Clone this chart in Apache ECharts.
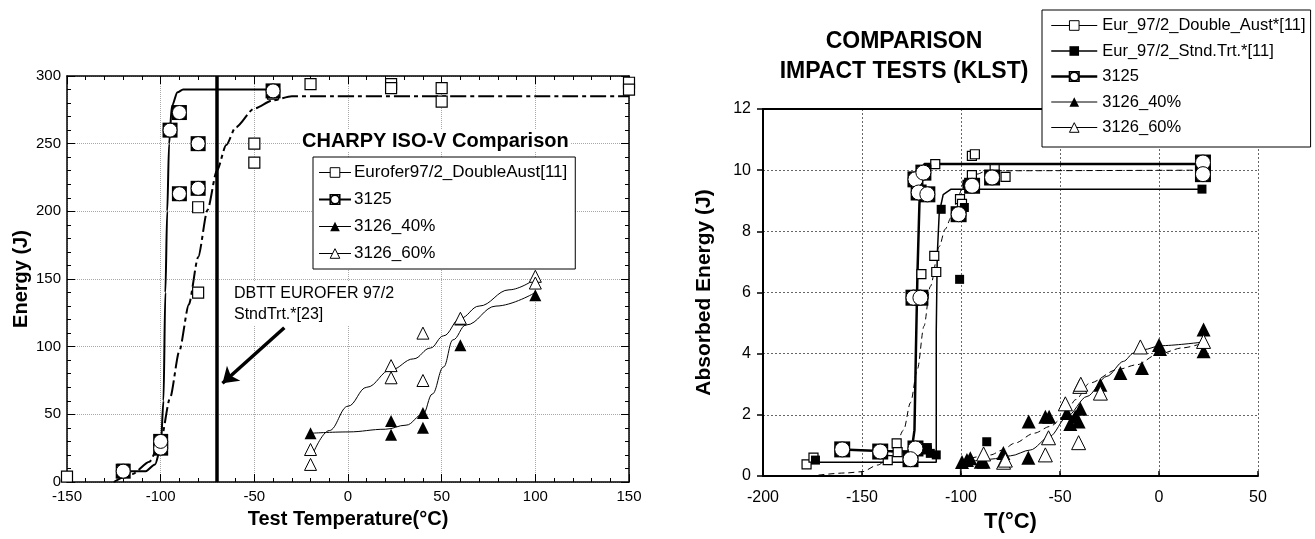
<!DOCTYPE html>
<html><head><meta charset="utf-8">
<script src="https://cdn.jsdelivr.net/npm/echarts@6/dist/echarts.min.js"></script>
<style>html,body{margin:0;padding:0;background:#fff}#c{width:1315px;height:539px}</style>
</head><body><div id="c"></div>
<script>
// ---------- Left chart: CHARPY ISO-V ----------
const charpyXTicks = [-150, 150, 50];
const charpyYTicks = [0, 300, 50];
const charpyEuroferPts = [[-150,4],[-120,9],[-100,30],[-100,25],[-80,140],[-80,203],[-50,250],[-50,236],[-40,287],[-20,294],[23,294],[23,291],[50,291],[50,281],[150,295],[150,290]];
const charpyEuroferFit = [[-125,0],[-115,6],[-106,15],[-100,30],[-95,62],[-90,97],[-85,131],[-80,166],[-75,201],[-70,230],[-65,249],[-60,262],[-50,276],[-40,282],[-30,285],[150,285]];
const charpy3125Pts = [[-120,8],[-100,25],[-100,30],[-95,260],[-90,273],[-90,213],[-80,250],[-80,217],[-40,289]];
const charpy3125Fit = [[-120,8],[-108,8],[-103,13],[-100,25],[-98.5,60],[-97.5,140],[-96.5,200],[-95.5,250],[-94,278],[-91,288],[-88,290],[-40,290]];
const charpy40Pts = [[-20,36],[23,45],[23,35],[40,51],[40,40],[60,120],[60,101],[100,138]];
const charpy40Fit = [[-20,36],[0,37],[20,39],[31,42],[40,50],[45,65],[51,85],[56,105],[63,116],[79,130],[100,140]];
const charpy60Pts = [[-20,24],[-20,13],[23,86],[23,77],[40,110],[40,75],[60,121],[100,152],[100,147]];
const charpy60Fit = [[-19,20],[-10,38],[0,56],[10,70],[23,83],[35,91],[44,99],[51,108],[60,121],[70,130],[86,142],[100,150]];
const dbttX = -70;
const arrowTail = [-34,114];
const arrowHead = [-67,73];

// ---------- Right chart: KLST ----------
const klstXTicks = [-200, 50, 50];
const klstYTicks = [0, 12, 2];
const klstDoubleAustPts = [[-178,0.38],[-174.5,0.6],[-137,0.52],[-132.5,1.07],[-132,0.78],[-120,6.6],[-112.5,6.67],[-113.5,7.2],[-113,10.2],[-100.5,9.05],[-99.5,8.9],[-94.5,10.47],[-93,10.52],[-94.5,9.84],[-83,10.03],[-77.5,9.78]];
const klstDoubleAustFit = [[-172,0.03],[-158,0.1],[-150,0.14],[-142,0.36],[-134,0.8],[-129,1.5],[-125.5,2.4],[-122,3.5],[-118.7,4.9],[-115.5,6.2],[-111,7.5],[-108,8.07],[-105,8.45],[-101,9.2],[-98.7,9.6],[-92,9.87],[-87,9.98],[22,10.0]];
const klstStndPts = [[-173.5,0.52],[-117,0.93],[-117,0.85],[-115.5,0.74],[-112.5,0.69],[-110,8.72],[-100.7,6.43],[-97,9.54],[-98.3,8.78],[-87,1.12],[21.7,9.38]];
const klstStndFit = [[-173,0.45],[-112.5,0.45],[-112.5,4.7],[-112,7.2],[-111,8.6],[-109,9.2],[-105,9.38],[22,9.38]];
const klst3125Pts = [[-160,0.87],[-140.8,0.8],[-123,0.9],[-125.5,0.55],[-124,5.83],[-120.5,5.83],[-123,9.7],[-119,9.92],[-121.4,9.27],[-117,9.21],[-94.4,9.49],[-101.2,8.56],[-84.3,9.76],[22.2,10.25],[22.2,9.87]];
const klst3125Fit = [[-160,0.87],[-141,0.82],[-125,0.8],[-123.5,1.5],[-122.8,4],[-122,6.6],[-121,8.9],[-120,9.9],[-118.5,10.2],[22,10.2]];
const klst40Pts = [[-99.5,0.46],[-97,0.52],[-95.3,0.58],[-90,0.47],[-88.6,0.47],[-78.6,0.75],[-66,0.6],[-65.8,1.78],[-57.4,1.94],[-55.5,1.94],[-46.5,2.06],[-44.8,1.7],[-42.3,1.94],[-39.7,2.2],[-40.6,1.78],[-29.6,2.98],[-19.5,3.37],[-8.6,3.53],[0,4.28],[0.5,4.15],[22.5,4.79],[22.5,4.08]];
const klst40Fit = [[-100,0.5],[-85,0.69],[-79,0.85],[-73,1.07],[-63,1.4],[-55,1.62],[-48,1.94],[-42,2.5],[-35,3.04],[-21,3.48],[-11,3.64],[-1,3.97],[12,4.19],[20,4.3]];
const klst60Pts = [[-88.6,0.72],[-78.5,0.45],[-77.6,0.52],[-57.4,0.69],[-55.8,1.25],[-47.3,2.36],[-40.6,1.09],[-40,2.93],[-39.5,3.0],[-29.6,2.71],[-9.4,4.22],[22.5,4.4]];
const klst60Fit = [[-100.3,0],[-100.3,0.45],[-85,0.55],[-75,0.66],[-65,0.85],[-55,1.3],[-46.5,1.94],[-36.4,2.6],[-26.3,3.26],[-17.9,3.75],[-12.8,4.02],[-7.8,4.13],[0.7,4.26],[21,4.37]];

const legendLeftNames = ['Eurofer97/2_DoubleAust[11]','3125','3126_40%','3126_60%'];
const legendRightNames = ['Eur_97/2_Double_Aust*[11]','Eur_97/2_Stnd.Trt.*[11]','3125','3126_40%','3126_60%'];

const FF = 'Liberation Sans, Arial, sans-serif';
const BLK = '#000';
const combo = 'path://M0,0H20V20H0Z M10,1A9,9 0 1,1 9.99,1Z';

function fitLine(name, data, xi, yi, o) {
  return Object.assign({
    type:'line', name, data, xAxisIndex:xi, yAxisIndex:yi, showSymbol:false,
    symbol:o.symbol, smooth:o.smooth||false, smoothMonotone:o.smooth?'x':undefined,
    lineStyle:{color:BLK, width:o.width, type:o.type||'solid', opacity:1},
    itemStyle:o.item, z:3, silent:true, animation:false
  }, o.extra||{});
}
function pts(name, data, xi, yi, symbol, size, item, z) {
  return {type:'scatter', name, data, xAxisIndex:xi, yAxisIndex:yi, symbol, symbolSize:size,
    itemStyle:Object.assign({opacity:1}, item), z:z||5, silent:true, animation:false};
}
const openItem = {color:'#fff', borderColor:BLK, borderWidth:1, opacity:1};
const fillItem = {color:BLK, opacity:1};

function axisBase(tick, extra) {
  return Object.assign({type:'value', min:tick[0], max:tick[1], interval:tick[2]}, extra);
}

const option = {
  backgroundColor:'#fff',
  animation:false,
  textStyle:{fontFamily:FF, color:BLK},
  grid:[
    {left:67, top:76, width:562, height:406, outerBoundsMode:'none', containLabel:false},
    {left:763, top:109, width:495, height:367, outerBoundsMode:'none', containLabel:false}
  ],
  xAxis:[
    axisBase(charpyXTicks, {gridIndex:0, position:'bottom',
      axisLine:{show:true, onZero:false, lineStyle:{color:BLK, width:1.5}},
      axisTick:{show:true, inside:true, length:8, lineStyle:{color:BLK}},
      minorTick:{show:true, splitNumber:5, length:4, lineStyle:{color:BLK}},
      splitLine:{show:true, lineStyle:{color:'#a8a8a8', type:'dotted', width:1}},
      axisLabel:{fontSize:15, color:BLK, margin:7, fontFamily:FF},
      name:'Test Temperature(°C)', nameLocation:'middle', nameGap:27,
      nameTextStyle:{fontSize:20, fontWeight:'bold', color:BLK, fontFamily:FF}}),
    axisBase(charpyXTicks, {gridIndex:0, position:'top',
      axisLine:{show:true, onZero:false, lineStyle:{color:BLK, width:1.5}},
      axisTick:{show:true, inside:true, length:8, lineStyle:{color:BLK}},
      minorTick:{show:true, splitNumber:5, length:4, lineStyle:{color:BLK}},
      splitLine:{show:false}, axisLabel:{show:false}}),
    axisBase(klstXTicks, {gridIndex:1, position:'bottom',
      axisLine:{show:true, onZero:false, lineStyle:{color:BLK, width:2}},
      axisTick:{show:true, inside:true, length:5, lineStyle:{color:BLK, width:1.5}},
      splitLine:{show:true, lineStyle:{color:'#666', type:[2,2], width:1}},
      axisLabel:{fontSize:16, color:BLK, margin:14, fontFamily:FF},
      name:'T(°C)', nameLocation:'middle', nameGap:34,
      nameTextStyle:{fontSize:22, fontWeight:'bold', color:BLK, fontFamily:FF}}),
    axisBase(klstXTicks, {gridIndex:1, position:'top',
      axisLine:{show:true, onZero:false, lineStyle:{color:BLK, width:2}},
      axisTick:{show:false}, splitLine:{show:false}, axisLabel:{show:false}})
  ],
  yAxis:[
    axisBase(charpyYTicks, {gridIndex:0, position:'left',
      axisLine:{show:true, onZero:false, lineStyle:{color:BLK, width:1.5}},
      axisTick:{show:true, inside:true, length:8, lineStyle:{color:BLK}},
      minorTick:{show:true, splitNumber:5, length:4, lineStyle:{color:BLK}},
      splitLine:{show:true, lineStyle:{color:'#a8a8a8', type:'dotted', width:1}},
      axisLabel:{fontSize:15, color:BLK, margin:6, fontFamily:FF},
      name:'Energy (J)', nameLocation:'middle', nameGap:36, nameRotate:90,
      nameTextStyle:{fontSize:20, fontWeight:'bold', color:BLK, fontFamily:FF}}),
    axisBase(charpyYTicks, {gridIndex:0, position:'right',
      axisLine:{show:true, onZero:false, lineStyle:{color:BLK, width:1.5}},
      axisTick:{show:true, inside:true, length:8, lineStyle:{color:BLK}},
      minorTick:{show:true, splitNumber:5, length:4, lineStyle:{color:BLK}},
      splitLine:{show:false}, axisLabel:{show:false}}),
    axisBase(klstYTicks, {gridIndex:1, position:'left',
      axisLine:{show:true, onZero:false, lineStyle:{color:BLK, width:2}},
      axisTick:{show:true, inside:false, length:6, lineStyle:{color:BLK, width:1.5}},
      splitLine:{show:true, lineStyle:{color:'#666', type:[2,2], width:1}},
      axisLabel:{fontSize:16, color:BLK, margin:12, fontFamily:FF},
      name:'Absorbed Energy (J)', nameLocation:'middle', nameGap:48, nameRotate:90,
      nameTextStyle:{fontSize:21, fontWeight:'bold', color:BLK, fontFamily:FF}})
  ],
  legend:[
    {orient:'vertical', left:313, top:157, itemWidth:32, itemHeight:12, itemGap:10,
     padding:[7,8,7,5], backgroundColor:'#fff', borderColor:BLK, borderWidth:1, borderRadius:0,
     selectedMode:false, textStyle:{fontSize:17, color:BLK, fontFamily:FF, padding:[0,0,0,-2]},
     formatter:n=>n.replace(/^[LR]:/,''),
     data:[
       {name:'L:'+legendLeftNames[0], lineStyle:{type:'solid', width:1, color:BLK}, itemStyle:{color:'#fff', borderColor:BLK, borderWidth:1}},
       {name:'L:'+legendLeftNames[1], lineStyle:{type:'solid', width:2, color:BLK}, itemStyle:{color:'#fff', borderColor:BLK, borderWidth:1.5}},
       {name:'L:'+legendLeftNames[2], lineStyle:{type:'solid', width:1, color:BLK}, itemStyle:{color:BLK}},
       {name:'L:'+legendLeftNames[3], lineStyle:{type:'solid', width:1, color:BLK}, itemStyle:{color:'#fff', borderColor:BLK, borderWidth:1}}
     ]},
    {orient:'vertical', left:1042, top:10, itemWidth:46, itemHeight:12, itemGap:8.5,
     padding:[7,5,11,8], backgroundColor:'#fff', borderColor:BLK, borderWidth:1, borderRadius:0,
     selectedMode:false, textStyle:{fontSize:16.5, color:BLK, fontFamily:FF},
     formatter:n=>n.replace(/^[LR]:/,''),
     data:[
       {name:'R:'+legendRightNames[0], lineStyle:{type:'solid', width:1, color:BLK}, itemStyle:{color:'#fff', borderColor:BLK, borderWidth:1}},
       {name:'R:'+legendRightNames[1], lineStyle:{type:'solid', width:1.5, color:BLK}, itemStyle:{color:BLK}},
       {name:'R:'+legendRightNames[2], lineStyle:{type:'solid', width:2.5, color:BLK}, itemStyle:{color:'#fff', borderColor:BLK, borderWidth:1.5}},
       {name:'R:'+legendRightNames[3], lineStyle:{type:'solid', width:1, color:BLK}, itemStyle:{color:BLK}},
       {name:'R:'+legendRightNames[4], lineStyle:{type:'solid', width:1, color:BLK}, itemStyle:{color:'#fff', borderColor:BLK, borderWidth:1}}
     ]}
  ],
  graphic:[
    {type:'text', x:300, y:141, z:10, style:{text:'CHARPY ISO-V Comparison', font:'bold 20px '+FF, fill:BLK, textVerticalAlign:'middle', backgroundColor:'#fff', padding:[1,2]}},
    {type:'text', x:233, y:282, z:10, style:{text:'DBTT EUROFER 97/2\nStndTrt.*[23]', font:'16px '+FF, fill:BLK, lineHeight:21, backgroundColor:'#fff', padding:[1,1]}},
    {type:'text', x:904, y:42, z:10, style:{text:'COMPARISON', font:'bold 23px '+FF, fill:BLK, textAlign:'center', textVerticalAlign:'middle'}},
    {type:'text', x:904, y:72, z:10, style:{text:'IMPACT TESTS (KLST)', font:'bold 23px '+FF, fill:BLK, textAlign:'center', textVerticalAlign:'middle'}}
  ],
  series:[
    // left fits
    fitLine('L:'+legendLeftNames[0], charpyEuroferFit, 0, 0, {symbol:'rect', smooth:0.25, width:2, type:[16,4,4,4], item:openItem,
      extra:{markLine:{silent:true, symbol:['none','none'], label:{show:false}, animation:false,
        lineStyle:{color:BLK, width:3.5, type:'solid'}, data:[{xAxis:dbttX}]}}}),
    fitLine('L:'+legendLeftNames[1], charpy3125Fit, 0, 0, {symbol:combo, smooth:0.3, width:2, item:{color:'#fff', borderColor:BLK, borderWidth:1.5},
      extra:{markLine:{silent:true, symbol:['none','arrow'], symbolSize:15, label:{show:false}, animation:false,
        lineStyle:{color:BLK, width:3.5, type:'solid'}, data:[[{coord:arrowTail},{coord:arrowHead}]]}}}),
    fitLine('L:'+legendLeftNames[2], charpy40Fit, 0, 0, {symbol:'triangle', smooth:0.4, width:1, item:fillItem}),
    fitLine('L:'+legendLeftNames[3], charpy60Fit, 0, 0, {symbol:'triangle', smooth:0.4, width:1, item:openItem}),
    // left points
    pts('lp-eur', charpyEuroferPts, 0, 0, 'rect', 11, {color:'#fff', borderColor:BLK, borderWidth:1.2}),
    pts('lp-3125s', charpy3125Pts, 0, 0, 'rect', 15, fillItem, 6),
    pts('lp-3125c', charpy3125Pts, 0, 0, 'circle', 14, {color:'#fff', borderColor:BLK, borderWidth:1}, 7),
    pts('lp-40', charpy40Pts, 0, 0, 'triangle', 12, fillItem),
    pts('lp-60', charpy60Pts, 0, 0, 'triangle', 12, openItem),
    // right fits
    fitLine('R:'+legendRightNames[0], klstDoubleAustFit, 2, 2, {symbol:'rect', smooth:0.3, width:1, type:[6,4], item:openItem}),
    fitLine('R:'+legendRightNames[1], klstStndFit, 2, 2, {symbol:'rect', width:1.5, item:fillItem}),
    fitLine('R:'+legendRightNames[2], klst3125Fit, 2, 2, {symbol:combo, width:2.5, item:{color:'#fff', borderColor:BLK, borderWidth:1.5}}),
    fitLine('R:'+legendRightNames[3], klst40Fit, 2, 2, {symbol:'triangle', smooth:0.3, width:1, type:[6,4], item:fillItem}),
    fitLine('R:'+legendRightNames[4], klst60Fit, 2, 2, {symbol:'triangle', smooth:0.3, width:1, item:openItem}),
    // right points
    pts('rp-eur', klstDoubleAustPts, 2, 2, 'rect', 9, {color:'#fff', borderColor:BLK, borderWidth:1.2}),
    pts('rp-stnd', klstStndPts, 2, 2, 'rect', 9, fillItem),
    pts('rp-3125s', klst3125Pts, 2, 2, 'rect', 16, fillItem, 6),
    pts('rp-3125c', klst3125Pts, 2, 2, 'circle', 15, {color:'#fff', borderColor:BLK, borderWidth:1}, 7),
    pts('rp-40', klst40Pts, 2, 2, 'triangle', 14, fillItem),
    pts('rp-60', klst60Pts, 2, 2, 'triangle', 14, openItem)
  ]
};
const chart = echarts.init(document.getElementById('c'), null, {renderer:'canvas'});
chart.setOption(option);
</script></body></html>
